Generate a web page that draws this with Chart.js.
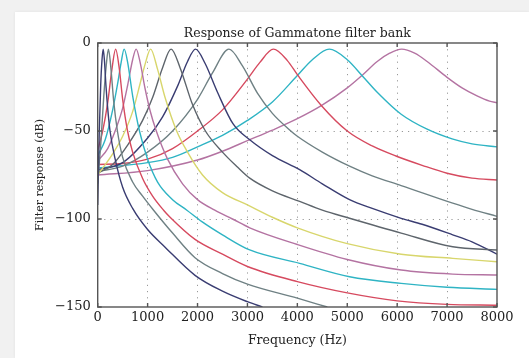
<!DOCTYPE html>
<html>
<head>
<meta charset="utf-8">
<script src="https://cdn.jsdelivr.net/npm/chart.js@4.4.0/dist/chart.umd.min.js"></script>
<style>
  html, body { margin: 0; padding: 0; }
  body { width: 529px; height: 358px; background: #f1f1f1; position: relative; overflow: hidden; }
  #card { position: absolute; left: 15px; top: 12px; right: 0; bottom: 0; background: #fff; box-shadow: 0 0 3px rgba(0,0,0,0.07); }
  #myChart { position: absolute; left: 0; top: 0; }
</style>
</head>
<body>
<div id="card"></div>
<canvas id="myChart" width="529" height="358"></canvas>
<script>
// Frecuencias (Hz) y respuesta (dB) de cada filtro
const f1 = [0, 30, 60, 85, 110, 135, 165, 200, 247, 350, 500, 700, 1000, 1350, 1950, 2500, 3000, 3300];
const db1 = [-92, -52, -24, -10, -3.5, -10, -24, -37, -50, -66, -82, -94, -106, -116, -132, -141, -147, -150];

const f2 = [0, 60, 120, 170, 215, 260, 320, 395, 500, 700, 900, 1120, 1500, 1950, 2500, 3000, 4000, 4600];
const db2 = [-80, -58, -31, -13, -3.5, -13, -33, -50, -65, -79, -87, -95, -108, -122, -131, -137, -145, -150];

const f3 = [0, 100, 200, 280, 360, 430, 500, 598, 700, 900, 1100, 1320, 1450, 1950, 2500, 3000, 4000, 5000, 6000, 7000, 8000];
const db3 = [-61, -50, -34, -16, -3.5, -14, -32, -50, -62, -77, -87, -95, -99, -111.6, -120, -127, -135.6, -142, -146.5, -148.5, -149];

const f4 = [0, 150, 300, 400, 470, 530, 600, 700, 837, 1000, 1200, 1500, 1787, 2087, 2500, 3046, 4046, 5046, 6080, 7000, 8000];
const db4 = [-64, -55, -38, -23, -11, -3.5, -11, -30, -50, -66, -79, -89, -95, -101.5, -109, -117.6, -125.2, -132.8, -136.6, -138.8, -140];

const f5 = [0, 200, 400, 500, 600, 700, 770, 850, 950, 1050, 1174, 1400, 1700, 2000, 2346, 2700, 3046, 4000, 5000, 6080, 7113, 8000];
const db5 = [-67, -60, -46, -37, -24, -9.5, -3.5, -11, -26, -38.5, -50, -66, -80, -89, -95, -100, -105, -114.5, -123, -129, -131.3, -131.8];

const f6 = [0, 300, 500, 700, 850, 950, 1060, 1200, 1350, 1582, 1800, 2100, 2500, 3000, 3500, 4000, 5000, 6080, 7113, 8000];
const db6 = [-75, -63, -53, -39, -23, -12, -3.5, -15, -31, -50, -62, -75, -85, -92, -99, -105, -114, -120, -122.4, -124.3];

const f7 = [0, 300, 600, 900, 1100, 1300, 1470, 1650, 1900, 2158, 2500, 2800, 3046, 3500, 4046, 4500, 5046, 6080, 7113, 8000];
const db7 = [-74, -69, -58, -44, -31, -14, -3.5, -14, -35, -50, -62, -70.5, -76.8, -84, -90, -95, -99.6, -108, -115.8, -117.6];

const f8 = [0, 500, 1000, 1300, 1600, 1800, 1960, 2150, 2400, 2713, 3046, 3500, 4046, 4500, 5046, 5500, 6080, 6500, 7113, 7500, 8000];
const db8 = [-72, -68, -54, -42, -24.5, -10.5, -3.5, -11.5, -28, -46, -55, -64, -72, -80, -89, -94, -99.6, -103, -109, -113, -120];

const f9 = [0, 500, 1000, 1500, 2000, 2300, 2630, 2900, 3200, 3500, 3846, 4000, 4500, 5046, 5500, 6080, 7113, 7500, 8000];
const db9 = [-73, -70, -62, -50, -32, -17, -3.5, -13, -28.5, -40, -49.4, -53, -62, -70, -75.5, -81, -91, -94.5, -98.5];

const f10 = [0, 500, 1000, 1500, 2000, 2500, 3000, 3250, 3520, 3800, 4000, 4480, 5000, 5500, 6000, 6500, 7000, 7500, 8000];
const db10 = [-69, -68.5, -66, -60, -50, -38, -20.5, -11, -3.5, -10, -18, -35.5, -50, -58.5, -64.5, -69.5, -74, -76.8, -77.8];

const f11 = [0, 1000, 1500, 2000, 2500, 3000, 3500, 4000, 4300, 4640, 5000, 5312, 5600, 6080, 6600, 7100, 7500, 8000];
const db11 = [-71, -68, -65, -59, -52.5, -44, -33.5, -18.5, -9.5, -3.5, -9.5, -19, -28, -40.5, -49, -54.5, -57.3, -59];

const f12 = [0, 1000, 2000, 2500, 3000, 3500, 4000, 4480, 5000, 5312, 5600, 5850, 6090, 6350, 6600, 7000, 7300, 7600, 7850, 8000];
const db12 = [-75, -72.5, -66.5, -61.5, -55.5, -49.5, -43, -35.6, -25.5, -18, -10.5, -5.8, -3.5, -5.8, -10.5, -19.5, -25.5, -30, -33, -34];

const xTicks = [0, 1000, 2000, 3000, 4000, 5000, 6000, 7000, 8000];
const yTicks = [0, -50, -100, -150];

const colores = ["#3a3d72", "#6f8184", "#d64a5f", "#2fb4c4", "#b473a2", "#d8d66c", "#5e656c"];

document.addEventListener("DOMContentLoaded", function () {
  const ctx = document.getElementById("myChart").getContext("2d");
  Chart.defaults.font.family = "'DejaVu Serif', serif";
  Chart.defaults.font.size = 13;
  Chart.defaults.color = "#222";

  const curvas = [
    [f1, db1], [f2, db2], [f3, db3], [f4, db4], [f5, db5], [f6, db6],
    [f7, db7], [f8, db8], [f9, db9], [f10, db10], [f11, db11], [f12, db12],
  ];
  const datasets = curvas.map(function (c, i) {
    return {
      label: "filtro " + (i + 1),
      data: c[0].map((f, j) => ({ x: f, y: c[1][j] })),
      borderColor: colores[i % colores.length],
      borderWidth: 1.4,
      pointRadius: 0,
      fill: false,
      cubicInterpolationMode: "monotone",
    };
  });

  // marco y marcas hacia adentro
  const marco = {
    id: "marco",
    afterDraw(chart) {
      const a = chart.chartArea;
      const c = chart.ctx;
      const sx = chart.scales.x;
      const sy = chart.scales.y;
      c.save();
      c.strokeStyle = "#555";
      c.lineWidth = 1.4;
      c.beginPath();
      xTicks.forEach(function (v) {
        const p = sx.getPixelForValue(v);
        c.moveTo(p, a.bottom); c.lineTo(p, a.bottom - 4);
        c.moveTo(p, a.top); c.lineTo(p, a.top + 4);
      });
      yTicks.forEach(function (v) {
        const p = sy.getPixelForValue(v);
        c.moveTo(a.left, p); c.lineTo(a.left + 4, p);
        c.moveTo(a.right, p); c.lineTo(a.right - 4, p);
      });
      c.stroke();
      c.strokeRect(a.left, a.top, a.right - a.left, a.bottom - a.top);
      c.restore();
    },
  };

  const gridColor = (ctx) =>
    ctx.index === 0 || ctx.index === ctx.chart.scales[ctx.scale.id].ticks.length - 1
      ? "rgba(0,0,0,0)"
      : "#999";

  new Chart(ctx, {
    type: "line",
    data: { datasets: datasets },
    options: {
      responsive: false,
      devicePixelRatio: 1,
      animation: false,
      layout: { padding: { left: 0, right: 32, top: 0, bottom: 0 } },
      plugins: {
        legend: { display: false },
        tooltip: { enabled: false },
        title: {
          display: true,
          text: "Response of Gammatone filter bank",
          fullSize: false,
          font: { size: 12.5, weight: "normal" },
          padding: { top: 26, bottom: 2 },
          color: "#222",
        },
      },
      scales: {
        x: {
          type: "linear",
          min: 0,
          max: 8000,
          afterBuildTicks: (s) => { s.ticks = xTicks.map((v) => ({ value: v })); },
          afterFit: (s) => { s.height = 51; },
          ticks: { padding: 3, maxRotation: 0, autoSkip: false, callback: (v) => String(v) },
          grid: { color: gridColor, drawTicks: false, lineWidth: 1 },
          border: { display: false, dash: [1.2, 5] },
          title: {
            display: true,
            text: "Frequency (Hz)",
            font: { size: 12.5 },
            padding: { top: 0, bottom: 10 },
          },
        },
        y: {
          min: -150,
          max: 0,
          afterBuildTicks: (s) => { s.ticks = yTicks.map((v) => ({ value: v })); },
          afterFit: (s) => { s.width = 97.7; },
          ticks: {
            padding: 7,
            callback: (v) => String(v).replace("-", "\u2212"),
          },
          grid: { color: gridColor, drawTicks: false, lineWidth: 1 },
          border: { display: false, dash: [1.2, 5] },
          title: {
            display: true,
            text: "Filter response (dB)",
            font: { size: 11 },
            padding: { top: 34, bottom: 0 },
          },
        },
      },
    },
    plugins: [marco],
  });
});
</script>
</body>
</html>
